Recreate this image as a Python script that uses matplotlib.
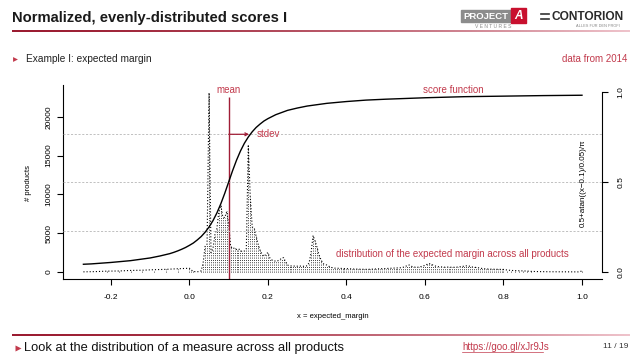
import matplotlib.pyplot as plt
import numpy as np
from matplotlib.colors import to_rgb
from matplotlib.patches import Rectangle
from matplotlib.ticker import FormatStrFormatter

plt.rcParams['font.family'] = ['Liberation Sans', 'DejaVu Sans']

# histogram of expected margin (counts per value)
neg_x = [-0.27, -0.24, -0.21, -0.18, -0.15, -0.12, -0.09, -0.06, -0.03]
neg_n = [20, 50, 110, 130, 200, 230, 300, 340, 420]

# step 0.005 from 0.000 to 0.800
core_n = [480, 250, 80, 40, 30, 60, 150, 1200, 3300, 3600,
          23100, 2500, 3000, 4800, 5600, 7800, 8600, 7100, 7000, 7800,
          6200, 3300, 3000, 3100, 2900, 3000, 2800, 2600, 2700, 3000,
          16400, 9700, 5800, 5700, 4600, 3600, 2800, 2300, 2000, 2300,
          2500, 1800, 1550, 1450, 1400, 1450, 1550, 1800, 1850, 1300,
          900, 800, 780, 760, 780, 750, 770, 760, 740, 760,
          800, 1200, 2500, 4700, 4000, 3200, 2200, 1600, 1100, 950,
          900, 750, 600, 550, 500, 490, 480, 470, 470, 460,
          450, 420, 400, 390, 380, 370, 350, 360, 360, 340,
          340, 350, 350, 370, 380, 390, 400, 410, 420, 440,
          450, 460, 480, 490, 500, 510, 520, 540, 560, 620,
          700, 850, 900, 750, 650, 620, 600, 650, 700, 780,
          850, 980, 1100, 1000, 900, 800, 700, 680, 650, 640,
          620, 630, 640, 620, 600, 610, 620, 650, 680, 720,
          750, 790, 800, 720, 650, 620, 600, 550, 500, 460,
          420, 400, 380, 370, 360, 355, 350, 345, 340, 335,
          330]

tail_x = [0.81, 0.82, 0.83, 0.84, 0.85, 0.86, 0.87, 0.88, 0.89, 0.90,
          0.91, 0.92, 0.93, 0.94, 0.95, 0.96, 0.97, 0.98, 0.99, 1.00]
tail_n = [250, 200, 180, 170, 150, 120, 80, 60, 50, 40,
          35, 30, 28, 25, 22, 20, 18, 15, 15, 120]

# score function 0.5 + atan((x - 0.1) / 0.05) / pi
score_x = [-0.27, -0.25, -0.2, -0.15, -0.1, -0.075, -0.05, -0.04, -0.03, -0.02,
           -0.01, 0.0, 0.01, 0.02, 0.03, 0.04, 0.05, 0.06, 0.07, 0.08, 0.09,
           0.1, 0.11, 0.12, 0.13, 0.14, 0.15, 0.16, 0.17, 0.18, 0.19, 0.2,
           0.22, 0.25, 0.275, 0.3, 0.35, 0.4, 0.45, 0.5, 0.6, 0.7, 0.8, 0.9, 1.0]
score_y = [0.043, 0.045, 0.053, 0.063, 0.078, 0.089, 0.102, 0.109, 0.117, 0.126,
           0.136, 0.148, 0.161, 0.178, 0.197, 0.221, 0.25, 0.285, 0.328, 0.379,
           0.437, 0.5, 0.563, 0.621, 0.672, 0.715, 0.75, 0.779, 0.803, 0.822,
           0.839, 0.852, 0.874, 0.898, 0.911, 0.922, 0.937, 0.947, 0.955,
           0.960, 0.968, 0.974, 0.977, 0.980, 0.982]

grid_levels = [0.228, 0.5, 0.765]
mean_x = 0.1
stdev_end = 0.152

RED = '#c23a4c'
DARK_RED = '#a01d36'
DOTS = (0, (1, 1.8))

core_x = list(np.round(0.005 * np.arange(len(core_n)), 3))
hist_x = np.array(neg_x + core_x + tail_x)
hist_n = np.array(neg_n + core_n + tail_n)

fig = plt.figure(figsize=(6.38, 3.59), dpi=100)

# slide decoration in pixel coords
deco = fig.add_axes([0, 0, 1, 1])
deco.set_xlim(0, 638)
deco.set_ylim(359, 0)
deco.axis('off')


def fade_line(y):
    c0, c1 = np.array(to_rgb('#9b1c31')), np.array(to_rgb('#efc4cc'))
    t = np.linspace(0, 1, 300) ** 1.5
    grad = np.array([c0 + (c1 - c0) * k for k in t])[None, :, :]
    deco.imshow(grad, extent=(12, 630, y + 0.8, y - 0.8), aspect='auto',
                interpolation='bilinear')


deco.text(12, 18, 'Normalized, evenly-distributed scores I', fontsize=10.6,
          fontweight='bold', va='center', color='#1a1a1a')
fade_line(31)
fade_line(335)
deco.set_xlim(0, 638)
deco.set_ylim(359, 0)

deco.plot([15], [59], marker='>', ms=3.5, color=RED, mec='none')
deco.text(26, 59, 'Example I: expected margin', fontsize=7.3, va='center', color='#222222')
deco.text(627, 59, 'data from 2014', fontsize=7, va='center', ha='right', color=RED)

deco.plot([18], [348], marker='>', ms=4, color=RED, mec='none')
deco.text(24, 348, 'Look at the distribution of a measure across all products',
          fontsize=9.3, va='center', color='#111111')
deco.text(462, 347, 'https://goo.gl/xJr9Js', fontsize=7, va='center', color=RED)
deco.plot([462, 543], [352, 352], color=RED, lw=0.5)
deco.text(628, 347, '11 / 19', fontsize=6, va='center', ha='right', color='#333333')

# logos
deco.add_patch(Rectangle((461, 10), 50, 12, color='#8c8c8c'))
deco.text(486, 16.3, 'PROJECT', fontsize=6.8, fontweight='bold', color='white',
          ha='center', va='center')
deco.add_patch(Rectangle((511, 8), 15, 15, color='#c8102e'))
deco.text(518.5, 15.8, 'A', fontsize=8.5, fontweight='bold', fontstyle='italic',
          color='white', ha='center', va='center')
deco.text(493, 26.5, 'V E N T U R E S', fontsize=3.6, color='#8c8c8c',
          ha='center', va='center')
deco.plot([541, 549], [14, 14], color='#333333', lw=1.2)
deco.plot([541, 549], [19, 19], color='#333333', lw=1.2)
deco.text(588, 16.5, 'CONTORION', fontsize=8.6, fontweight='bold', color='#2a2a2a',
          ha='center', va='center')
deco.text(598, 26, 'ALLES FÜR DEN PROFI', fontsize=2.8, color='#888888',
          ha='center', va='center')

# main chart
ax = fig.add_axes([63 / 638, 80 / 359, 539 / 638, 194 / 359])
ax.patch.set_alpha(0)
ax.set_xlim(-0.322, 1.051)
ax.set_ylim(-902, 24098)

ax2 = ax.twinx()
ax2.set_ylim(-0.0389, 1.0389)

for lv in grid_levels:
    ax2.axhline(lv, color='#b5b5b5', ls=(0, (2.5, 2)), lw=0.6, zorder=0)

ax.vlines(hist_x, 0, hist_n, colors='black', linestyles=DOTS, lw=0.6)
ax.plot(hist_x, hist_n, color='black', ls=DOTS, lw=0.8)

ax.vlines(mean_x, -902, 22550, colors=DARK_RED, lw=1.0)
ax2.plot(score_x, score_y, color='black', lw=1.0)
ax2.annotate('', xy=(stdev_end, grid_levels[2]), xytext=(mean_x, grid_levels[2]),
             arrowprops=dict(arrowstyle='->', color=DARK_RED, lw=0.9,
                             shrinkA=0, shrinkB=0, mutation_scale=5))

ax2.text(mean_x, 1.011, 'mean', color=RED, fontsize=7, ha='center', va='center')
ax2.text(0.1725, grid_levels[2], 'stdev', color=RED, fontsize=7, ha='left', va='center')
ax2.text(0.672, 1.011, 'score function', color=RED, fontsize=7, ha='center', va='center')
ax2.text(0.669, 0.1, 'distribution of the expected margin across all products',
         color=RED, fontsize=7, ha='center', va='center')

for s in ['top', 'right']:
    ax.spines[s].set_visible(False)
for s in ['top', 'left', 'bottom']:
    ax2.spines[s].set_visible(False)
ax2.spines['right'].set_bounds(0, 1)
for sp in [ax.spines['left'], ax.spines['bottom'], ax2.spines['right']]:
    sp.set_linewidth(0.8)

ax.set_xticks([-0.2, 0.0, 0.2, 0.4, 0.6, 0.8, 1.0])
ax.xaxis.set_major_formatter(FormatStrFormatter('%.1f'))
ax.set_yticks([0, 5000, 10000, 15000, 20000])
ax2.set_yticks([0.0, 0.5, 1.0])
ax2.yaxis.set_major_formatter(FormatStrFormatter('%.1f'))

ax.tick_params(axis='x', direction='out', length=4.3, width=0.8, labelsize=6, pad=6.2)
ax.tick_params(axis='y', direction='out', length=4.3, width=0.8, labelsize=6, pad=3.4,
               labelrotation=90)
ax2.tick_params(axis='y', direction='out', length=4.3, width=0.8, labelsize=6, pad=6.8,
                labelrotation=90)
for lab in ax.get_yticklabels() + ax2.get_yticklabels():
    lab.set_va('center')

fig.text(332.5 / 638, 1 - 317 / 359, 'x = expected_margin', fontsize=5.5,
         ha='center', va='center')
fig.text(29 / 638, 1 - 183 / 359, '# products', fontsize=5.5, rotation=90,
         ha='center', va='center')
fig.text(583 / 638, 1 - 183.5 / 359, '0.5+atan((x\u22120.1)/0.05)/\u03c0', fontsize=5.8,
         rotation=90, ha='center', va='center')

fig.savefig('out.png', dpi=100)
